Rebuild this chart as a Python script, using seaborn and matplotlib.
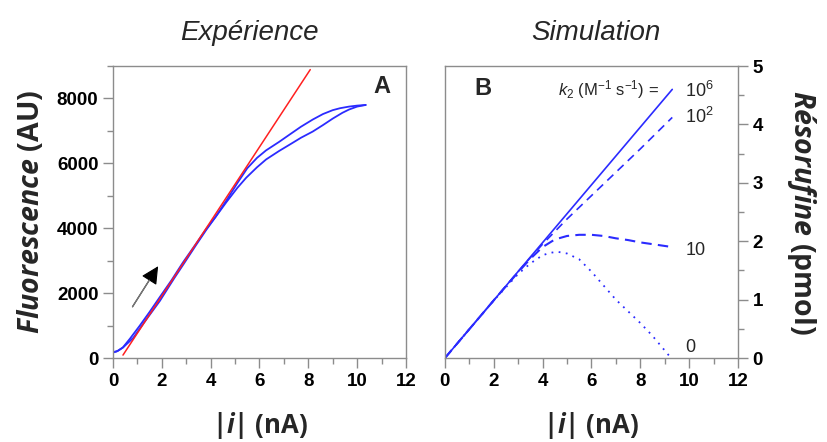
"""Expérience vs simulation: fluorescence and résorufine against current."""

import matplotlib

matplotlib.use("Agg")
import matplotlib.pyplot as plt
import seaborn as sns
from matplotlib.ticker import MultipleLocator

# ---- data ------------------------------------------------------------
# panel A: experimental loop (rising then returning branch) and linear fit
exp_up_x = [0.0, 0.2, 0.42, 0.83, 1.3, 1.92, 2.5, 2.87, 3.4, 3.82, 4.3, 4.64,
            5.1, 5.46, 5.9, 6.27, 6.8, 7.22, 7.7, 8.18, 8.6, 9.0, 9.4, 9.67,
            10.0, 10.35]
exp_up_y = [180, 220, 330, 620, 1120, 1760, 2450, 2870, 3480, 3950, 4450,
            4800, 5250, 5560, 5880, 6120, 6380, 6570, 6790, 6980, 7180, 7380,
            7560, 7660, 7750, 7800]
exp_down_x = [10.35, 10.0, 9.67, 9.3, 9.0, 8.6, 8.18, 7.7, 7.22, 6.8, 6.27,
              5.9, 5.5, 5.1, 4.64, 4.2, 3.82, 3.4, 2.87, 2.4, 1.92, 1.5, 1.1,
              0.7, 0.4, 0.15, 0.0]
exp_down_y = [7800, 7780, 7750, 7700, 7640, 7520, 7350, 7130, 6880, 6660, 6400,
              6170, 5850, 5400, 4850, 4350, 3980, 3520, 2950, 2400, 1880, 1420,
              1000, 600, 320, 200, 170]
fit_x = [0.41, 8.08]
fit_y = [90, 8890]

# panel B: simulated résorufine for several k2
sim_k6_x = [0.0, 9.31]
sim_k6_y = [0.0, 4.6]
sim_k2_x = [0.0, 1.0, 2.0, 3.0, 3.5, 4.0, 5.0, 6.0, 7.0, 8.0, 9.31]
sim_k2_y = [0.0, 0.494, 0.988, 1.48, 1.72, 1.95, 2.38, 2.78, 3.18, 3.58, 4.12]
sim_k1_x = [0.0, 1.0, 2.0, 3.0, 3.5, 4.0, 4.5, 5.0, 5.5, 6.0, 6.5, 7.0, 7.5,
            8.0, 8.5, 9.31]
sim_k1_y = [0.0, 0.494, 0.988, 1.47, 1.7, 1.9, 2.03, 2.09, 2.11, 2.11, 2.09,
            2.05, 2.02, 1.98, 1.95, 1.9]
sim_k0_x = [0.0, 1.0, 2.0, 3.0, 3.5, 4.0, 4.3, 4.6, 5.0, 5.5, 6.0, 6.5, 7.0,
            7.5, 8.0, 8.5, 9.22]
sim_k0_y = [0.0, 0.494, 0.985, 1.44, 1.62, 1.76, 1.8, 1.82, 1.79, 1.69, 1.48,
            1.24, 1.0, 0.8, 0.6, 0.38, 0.02]
k2_labels = ["10$^6$", "10$^2$", "10", "0"]
k2_label_y = [4.47, 4.02, 1.76, 0.10]

# ---- style -----------------------------------------------------------
sns.set_theme(style="ticks")
plt.rcParams.update({
    "font.family": ["Liberation Sans", "DejaVu Sans"],
    "mathtext.fontset": "custom",
    "mathtext.it": "Liberation Sans:italic",
    "mathtext.rm": "Liberation Sans",
    "mathtext.bf": "Open Sans:italic:bold",
    "axes.edgecolor": "#8c8c8c",
    "axes.linewidth": 1.0,
    "xtick.color": "#8c8c8c",
    "ytick.color": "#8c8c8c",
    "xtick.labelcolor": "black",
    "ytick.labelcolor": "black",
    "xtick.major.size": 7,
    "ytick.major.size": 7,
    "xtick.minor.size": 4,
    "ytick.minor.size": 4,
})
BLUE = "#2b2bff"
tick_font = dict(family=["Liberation Sans", "DejaVu Sans"], weight="bold", size=13.5)
label_font = dict(family=["Open Sans", "DejaVu Sans"], weight="bold", size=20.5)
xlabel_font = dict(family=["Open Sans", "DejaVu Sans"], weight="bold", size=18.5)

fig = plt.figure(figsize=(8.27, 4.42), dpi=100)
ax_a = fig.add_axes([0.1366, 0.19, 0.3543, 0.6606])
ax_b = fig.add_axes([0.538, 0.19, 0.3543, 0.6606])

# ---- panel A ---------------------------------------------------------
sns.lineplot(x=exp_up_x, y=exp_up_y, ax=ax_a, color=BLUE, lw=1.3, sort=False)
sns.lineplot(x=exp_down_x, y=exp_down_y, ax=ax_a, color=BLUE, lw=1.3, sort=False)
sns.lineplot(x=fit_x, y=fit_y, ax=ax_a, color="#ff2020", lw=1.1)
ax_a.annotate("", xy=(1.85, 2830), xytext=(0.8, 1580),
              arrowprops=dict(arrowstyle="-|>,head_length=0.9,head_width=0.45",
                              color="black", lw=0.8, shrinkA=0, shrinkB=0))
ax_a.annotate("", xy=(1.85, 2830), xytext=(0.8, 1580),
              arrowprops=dict(arrowstyle="-", color="#777777", lw=1.0,
                              shrinkA=0, shrinkB=12))
ax_a.set_xlim(0, 12)
ax_a.set_ylim(0, 9000)
ax_a.xaxis.set_major_locator(MultipleLocator(2))
ax_a.xaxis.set_minor_locator(MultipleLocator(1))
ax_a.yaxis.set_major_locator(MultipleLocator(2000))
ax_a.yaxis.set_minor_locator(MultipleLocator(1000))
ax_a.text(11.0, 8360, "A", ha="center", va="center", fontsize=17,
          fontweight="bold", family=["Liberation Sans", "DejaVu Sans"])
ax_a.set_ylabel(r"$\mathbf{Fluorescence}$ (AU)", labelpad=8, **label_font)
ax_a.set_xlabel(r"|$\mathbf{i}$| (nA)", labelpad=15, **xlabel_font)

# ---- panel B ---------------------------------------------------------
sns.lineplot(x=sim_k6_x, y=sim_k6_y, ax=ax_b, color=BLUE, lw=1.2)
sns.lineplot(x=sim_k2_x, y=sim_k2_y, ax=ax_b, color=BLUE, lw=1.2)
ax_b.lines[-1].set_dashes([5, 3.5])
sns.lineplot(x=sim_k1_x, y=sim_k1_y, ax=ax_b, color=BLUE, lw=1.5)
ax_b.lines[-1].set_dashes([5, 3])
sns.lineplot(x=sim_k0_x, y=sim_k0_y, ax=ax_b, color=BLUE, lw=1.3)
ax_b.lines[-1].set_dashes([1, 3])
for lab, ly in zip(k2_labels, k2_label_y):
    ax_b.text(9.84, ly, lab, ha="left", va="baseline", fontsize=13)
ax_b.text(8.75, 4.5, r"$k_2$ (M$^{-1}$ s$^{-1}$) =", ha="right", va="baseline",
          fontsize=12)
ax_b.text(1.55, 4.62, "B", ha="center", va="center", fontsize=17,
          fontweight="bold", family=["Liberation Sans", "DejaVu Sans"])
ax_b.set_xlim(0, 12)
ax_b.set_ylim(0, 5)
ax_b.xaxis.set_major_locator(MultipleLocator(2))
ax_b.xaxis.set_minor_locator(MultipleLocator(1))
ax_b.yaxis.set_major_locator(MultipleLocator(1))
ax_b.yaxis.set_minor_locator(MultipleLocator(0.5))
ax_b.yaxis.tick_right()
ax_b.yaxis.set_label_position("right")
ax_b.set_ylabel(r"$\mathbf{Résorufine}$ (pmol)", rotation=270, labelpad=40,
                **label_font)
ax_b.set_xlabel(r"|$\mathbf{i}$| (nA)", labelpad=15, **xlabel_font)

for ax in (ax_a, ax_b):
    ax.grid(False)
    for lab in ax.get_xticklabels() + ax.get_yticklabels():
        lab.set(**tick_font)
    ax.tick_params(which="both", direction="out", width=1.0)

# panel titles sit slightly off-centre in the original
fig.text(0.301, 0.926, "Expérience", ha="center", va="center",
         fontstyle="italic", fontsize=20)
fig.text(0.7207, 0.926, "Simulation", ha="center", va="center",
         fontstyle="italic", fontsize=20)

fig.savefig("out.png", dpi=100)
